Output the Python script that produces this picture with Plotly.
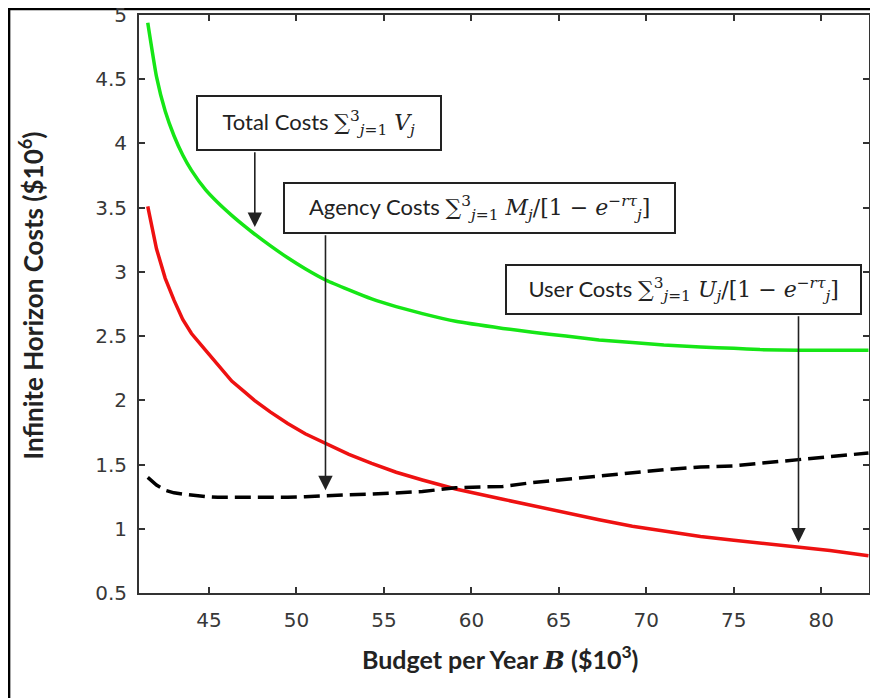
import plotly.graph_objects as go

# ---- data ----
budget = [41.5, 42, 42.5, 43, 43.5, 44, 44.8, 45.5, 46.3, 47,
          47.6, 48.5, 49.5, 50.5, 51.7, 53, 54.3, 55.7, 57.2, 59.1,
          61.8, 63.5, 65.4, 67.3, 69.2, 71, 73.1, 75, 76.5, 78.7,
          80.5, 82.7]
total_costs = [4.94, 4.52, 4.25, 4.06, 3.91, 3.79, 3.64, 3.54, 3.44, 3.36,
               3.295, 3.205, 3.11, 3.025, 2.935, 2.86, 2.79, 2.73, 2.675, 2.615,
               2.56, 2.53, 2.50, 2.47, 2.45, 2.43, 2.415, 2.405, 2.395, 2.39,
               2.39, 2.39]
user_costs = [3.51, 3.18, 2.95, 2.78, 2.63, 2.52, 2.39, 2.28, 2.15, 2.07,
              2.00, 1.91, 1.82, 1.74, 1.66, 1.58, 1.51, 1.44, 1.38, 1.31,
              1.23, 1.18, 1.12, 1.07, 1.02, 0.98, 0.94, 0.91, 0.89, 0.855,
              0.83, 0.79]
agency_costs = [1.40, 1.34, 1.30, 1.28, 1.27, 1.26, 1.25, 1.245, 1.245, 1.24,
                1.24, 1.24, 1.245, 1.25, 1.26, 1.265, 1.27, 1.28, 1.29, 1.32,
                1.33, 1.36, 1.385, 1.41, 1.44, 1.46, 1.48, 1.49, 1.51, 1.54,
                1.56, 1.59]

x_ticks = [45, 50, 55, 60, 65, 70, 75, 80]
y_ticks = [0.5, 1, 1.5, 2, 2.5, 3, 3.5, 4, 4.5, 5]

# page layout (the page body has an 8px margin)
OFF = 8
W, H = 870, 690
PL, PT, PR, PB = 139.3, 15, 868.7, 593.3      # plot area in page pixels
PW, PH = PR - PL, PB - PT


def px_x(p):
    return (p - PL) / PW


def px_y(p):
    return (PB - p) / PH


fig = go.Figure()
fig.add_trace(go.Scatter(x=budget, y=total_costs, mode="lines",
                         line=dict(color="#16e616", width=3.5, shape="spline", smoothing=0.4),
                         name="Total"))
fig.add_trace(go.Scatter(x=budget, y=user_costs, mode="lines",
                         line=dict(color="#ee1111", width=3.5), name="User"))
fig.add_trace(go.Scatter(x=budget, y=agency_costs, mode="lines",
                         line=dict(color="black", width=3.5, dash="16px,7px"), name="Agency"))

axis_common = dict(showgrid=False, zeroline=False, showline=True, linecolor="#333",
                   linewidth=2, mirror="ticks", ticks="inside", ticklen=6,
                   tickwidth=1.5, tickcolor="#333", ticklabeloverflow="allow",
                   tickfont=dict(family="DejaVu Sans", size=20, color="#383838"))

fig.update_xaxes(range=[41, 82.73], tickvals=x_ticks, ticklabelstandoff=8, **axis_common)
fig.update_yaxes(range=[0.5, 5], tickvals=y_ticks, ticklabelstandoff=6, **axis_common)

MATH = "DejaVu Serif"
TXT = "Lato"


def m(s):
    return f'<span style="font-family:{MATH}">{s}</span>'


box_font = dict(family=TXT, size=22, color="#222")
ann = []
boxes = [
    ("Total Costs " + m("∑<sup>3</sup><sub><i>j</i>=1</sub> <i>V<sub>j</sub></i>"),
     196.7, 442.3, 95, 150.7),
    ("Agency Costs " + m("∑<sup>3</sup><sub><i>j</i>=1</sub> <i>M<sub>j</sub></i>/[1 − <i>e</i><sup>−<i>rτ</i></sup><sub><i>j</i></sub>]"),
     283.3, 676.7, 181.7, 234),
    ("User Costs " + m("∑<sup>3</sup><sub><i>j</i>=1</sub> <i>U<sub>j</sub></i>/[1 − <i>e</i><sup>−<i>rτ</i></sup><sub><i>j</i></sub>]"),
     505, 862.3, 264, 315),
]
for text, x0, x1, y0, y1 in boxes:
    ann.append(dict(text=text, xref="paper", yref="paper",
                    x=px_x((x0 + x1) / 2), y=px_y((y0 + y1) / 2),
                    xanchor="center", yanchor="middle", showarrow=False,
                    width=x1 - x0 - 4, height=y1 - y0 - 4, borderpad=0,
                    bgcolor="white", bordercolor="#222", borderwidth=2,
                    font=box_font, align="center", valign="middle"))

# arrows (head on the curve, tail at the box bottom), in axis units
arrows = [(47.62, 3.35, 3.944), (51.66, 1.30, 3.297), (78.70, 0.894, 2.666)]
for xa, yh, yt in arrows:
    ann.append(dict(x=xa, y=yh, ax=xa, ay=yt, xref="x", yref="y",
                    axref="x", ayref="y", text="", showarrow=True,
                    arrowhead=2, arrowsize=1.8, arrowwidth=1.6,
                    arrowcolor="#222", standoff=0, startstandoff=0))

ann.append(dict(text="<b>Infinite Horizon Costs ($10<sup>6</sup>)</b>",
                xref="paper", yref="paper", x=px_x(32), y=px_y(296),
                textangle=-90, showarrow=False, xanchor="center", yanchor="middle",
                font=dict(family=TXT, size=26, color="#222")))
ann.append(dict(text="<b>Budget per Year " + m("<i>B</i>") + " ($10<sup>3</sup>)</b>",
                xref="paper", yref="paper", x=px_x(500), y=px_y(658),
                showarrow=False, xanchor="center", yanchor="middle",
                font=dict(family=TXT, size=25, color="#222")))

fig.update_layout(
    width=W, height=H,
    margin=dict(l=PL - OFF, r=W - (PR - OFF), t=PT - OFF, b=H - (PB - OFF), autoexpand=False),
    paper_bgcolor="white", plot_bgcolor="white", showlegend=False,
    annotations=ann,
    shapes=[dict(type="rect", xref="paper", yref="paper",
                 x0=px_x(9.5), x1=px_x(W + 80), y0=px_y(H + 80), y1=px_y(9),
                 line=dict(color="black", width=2.5), fillcolor="rgba(0,0,0,0)",
                 layer="below")],
)

fig.write_html("out.html")
